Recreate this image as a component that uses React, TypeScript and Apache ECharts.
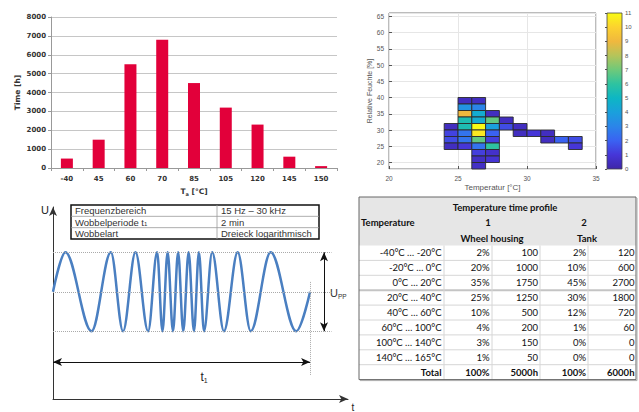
import React, { useEffect, useRef } from 'react';
import * as echarts from 'echarts';

// ---------- Panel 1: temperature histogram ----------
const barCategories = ['-40', '45', '60', '70', '85', '105', '120', '145', '150'];
const barValues = [500, 1500, 5500, 6800, 4500, 3200, 2300, 600, 100];

// ---------- Panel 2: humidity / temperature histogram (x = temp bin start, y = RH bin start, count) ----------
const heatCells: [number, number, number][] = [
  [25, 38, 0.5], [26, 38, 0.5],
  [25, 36, 3.5], [26, 36, 3],
  [25, 34, 9], [26, 34, 4.5], [27, 34, 0.5],
  [25, 32, 5.5], [26, 32, 4.5], [27, 32, 6.8], [28, 32, 0.5],
  [24, 30, 0.5], [25, 30, 5.5], [26, 30, 11], [27, 30, 4], [28, 30, 1.5], [29, 30, 0.5],
  [24, 28, 1.3], [25, 28, 2.5], [26, 28, 10.5], [27, 28, 2], [29, 28, 0.5], [30, 28, 1], [31, 28, 0.5],
  [24, 26, 1.5], [25, 26, 2.5], [26, 26, 6.8], [27, 26, 1.2], [31, 26, 0.5], [32, 26, 2], [33, 26, 1.5],
  [24, 24, 0.5], [25, 24, 1], [26, 24, 2.5], [27, 24, 6], [33, 24, 1],
  [26, 22, 1.2], [27, 22, 0.7],
  [26, 20, 0.6], [27, 20, 0.9],
  [26, 18, 0.6],
];
const heatBinW = 1;
const heatBinH = 2;
const parula = ['#3e26a8', '#4636d8', '#3a62f2', '#2b85e9', '#1aa0dc', '#0db6c4', '#2ec3a0', '#6fc97a', '#b5c45a', '#f0b83e', '#fcd22f', '#f9fb14'];

// ---------- Panel 3: sweep signal (time in s, normalized amplitude at extremes) ----------
const sweepTimes = [0, 5.8, 18.0, 27.0, 32.7, 38.5, 44.4, 48.6, 51.1, 53.5, 56.0, 58.4, 60.8, 63.3, 65.8, 68.1, 70.5, 74.3, 79.8, 86.2, 92.3, 101.6, 113.5, 120];
const sweepValues = [0, 1, -1, 1, -1, 1, -1, 1, -1, 1, -1, 1, -1, 1, -1, 1, -1, 1, -1, 1, -1, 1, -1, 0];
const sweepPeriod = 120;
const specLabels = ['Frequenzbereich', 'Wobbelperiode t', 'Wobbelart'];
const specValues = ['15 Hz – 30 kHz', '2 min', 'Dreieck logarithmisch'];

// ---------- Panel 4: temperature time profile table ----------
const profileRanges = ['-40°C … -20°C', '-20°C … 0°C', '0°C … 20°C', '20°C … 40°C', '40°C … 60°C', '60°C … 100°C', '100°C … 140°C', '140°C … 165°C'];
const wheelPct = [2, 20, 35, 25, 10, 4, 3, 1];
const wheelHours = [100, 1000, 1750, 1250, 500, 200, 150, 50];
const tankPct = [2, 10, 45, 30, 12, 1, 0, 0];
const tankHours = [120, 600, 2700, 1800, 720, 60, 0, 0];
const totals = ['Total', '100%', '5000h', '100%', '6000h'];

function buildGraphics() {
  const g: any[] = [];
  const txt = (text: string, x: number, y: number, align: string, font: any, extra: any = {}) => ({
    type: 'text', x, y, silent: true,
    style: { text, textAlign: align, align, textVerticalAlign: 'middle', verticalAlign: 'middle', ...font, ...extra },
  });

  // ---- wave spec table ----
  const sx = 71, sy = 205, sw = 248, sh = 34, sc = 217;
  const specFont = { fontFamily: 'Liberation Sans', fontSize: 9.5, fill: '#333' };
  g.push({ type: 'rect', shape: { x: sx, y: sy, width: sw, height: sh }, style: { fill: '#fff', stroke: '#111', lineWidth: 1.5 } });
  for (let i = 1; i < 3; i++) {
    g.push({ type: 'line', shape: { x1: sx, y1: sy + (sh / 3) * i, x2: sx + sw, y2: sy + (sh / 3) * i }, style: { stroke: '#999', lineWidth: 0.8 } });
  }
  g.push({ type: 'line', shape: { x1: sc, y1: sy, x2: sc, y2: sy + sh }, style: { stroke: '#999', lineWidth: 0.8 } });
  specLabels.forEach((l, i) => {
    const cy = sy + (sh / 3) * (i + 0.5);
    if (i === 1) {
      g.push(txt(`{n|${l}}{s|1}`, sx + 4, cy, 'left', specFont, {
        rich: { n: { fontFamily: 'Liberation Sans', fontSize: 9.5, fill: '#333' }, s: { fontFamily: 'Liberation Sans', fontSize: 6, fill: '#333', padding: [4, 0, 0, 0] } },
      }));
    } else {
      g.push(txt(l, sx + 4, cy, 'left', specFont));
    }
    g.push(txt(specValues[i], sc + 4, cy, 'left', specFont));
  });

  // axis names of wave panel
  g.push(txt('U', 45, 210, 'center', { fontFamily: 'Liberation Sans', fontSize: 11, fill: '#222' }));
  g.push(txt('t', 353, 407, 'center', { fontFamily: 'Liberation Sans', fontSize: 10, fill: '#222' }));
  g.push(txt('{u|U}{p|PP}', 330, 293, 'left', {}, {
    rich: { u: { fontFamily: 'Liberation Sans', fontSize: 11, fill: '#333' }, p: { fontFamily: 'Liberation Sans', fontSize: 6.5, fill: '#333', padding: [6, 0, 0, 0] } },
  }));

  // ---- temperature profile table ----
  const tx = 359, ty = 197, tw = 277, hh = 48.5, rh = 14.9;
  const colEdges = [444, 492, 540, 588];
  const colRight = [441.5, 489.5, 538, 586, 634.5];
  const nRows = profileRanges.length + 1;
  const bottom = ty + hh + nRows * rh;
  const f = { fontFamily: 'Lato', fontSize: 9.5, fill: '#111' };
  const fb = { fontFamily: 'Lato', fontSize: 9.5, fill: '#111', fontWeight: 'bold' };
  g.push({ type: 'rect', shape: { x: tx, y: ty, width: tw, height: bottom - ty }, style: { fill: '#fff', stroke: 'none' } });
  g.push({ type: 'rect', shape: { x: tx, y: ty, width: tw, height: hh }, style: { fill: '#e6e6e6', stroke: 'none' } });
  for (let i = 1; i < nRows; i++) {
    const y = ty + hh + i * rh;
    g.push({ type: 'line', shape: { x1: tx, y1: y, x2: tx + tw, y2: y }, style: { stroke: i === 3 ? '#c4c4c4' : '#d6d6d6', lineWidth: i === 3 ? 2 : 1 } });
  }
  colEdges.forEach((x) => {
    g.push({ type: 'line', shape: { x1: x, y1: ty + hh, x2: x, y2: bottom }, style: { stroke: '#d6d6d6', lineWidth: 1 } });
  });
  g.push({ type: 'rect', shape: { x: tx, y: ty, width: tw, height: bottom - ty }, style: { fill: 'none', stroke: '#666', lineWidth: 1 } });
  g.push({ type: 'line', shape: { x1: tx + tw + 1, y1: ty + 1, x2: tx + tw + 1, y2: bottom + 1 }, style: { stroke: '#aaa', lineWidth: 1 } });
  g.push({ type: 'line', shape: { x1: tx + 1, y1: bottom + 1, x2: tx + tw + 1, y2: bottom + 1 }, style: { stroke: '#aaa', lineWidth: 1 } });

  g.push(txt('Temperature time profile', 505, ty + 10, 'center', fb));
  g.push(txt('Temperature', 361, ty + 25.5, 'left', fb));
  g.push(txt('1', 488, ty + 25.5, 'center', fb));
  g.push(txt('2', 584, ty + 25.5, 'center', fb));
  g.push(txt('Wheel housing', 492, ty + 41, 'center', fb));
  g.push(txt('Tank', 587, ty + 41, 'center', fb));

  profileRanges.forEach((r, i) => {
    const cy = ty + hh + (i + 0.5) * rh;
    const cells = [r, `${wheelPct[i]}%`, `${wheelHours[i]}`, `${tankPct[i]}%`, `${tankHours[i]}`];
    cells.forEach((c, j) => g.push(txt(c, colRight[j], cy, 'right', f)));
  });
  const ty2 = ty + hh + (nRows - 0.5) * rh;
  totals.forEach((c, j) => g.push(txt(c, colRight[j], ty2, 'right', fb)));
  return g;
}

export default function App() {
  const ref = useRef<HTMLDivElement>(null);
  useEffect(() => {
    document.body.style.margin = '0';
    const chart = echarts.init(ref.current!, null, { renderer: 'svg' });
    const barFont = { fontFamily: 'DejaVu Sans', fontSize: 7, fontWeight: 'bold', color: '#333' };
    const heatFont = { fontFamily: 'Liberation Sans', fontSize: 6.5, color: '#555' };
    const dotted = { color: '#aaa', type: 'dotted', width: 1 };
    const option: any = {
      animation: false,
      backgroundColor: '#fff',
      grid: [
        { left: 51, top: 17, width: 286, height: 151 },
        { left: 389, top: 13, width: 207, height: 156, show: true, borderColor: '#555', borderWidth: 0.8, backgroundColor: 'transparent' },
        { left: 607, top: 13, width: 15, height: 156 },
        { left: 53, top: 207, width: 295, height: 192 },
      ],
      xAxis: [
        {
          gridIndex: 0, type: 'category', data: barCategories,
          axisLine: { lineStyle: { color: '#999' } },
          axisTick: { show: true, alignWithLabel: false, length: 3, lineStyle: { color: '#999' } },
          axisLabel: { ...barFont, margin: 7 },
          name: '{t|T}{s|a}{t| [°C]}', nameLocation: 'middle', nameGap: 19,
          nameTextStyle: { rich: { t: { fontFamily: 'DejaVu Sans', fontSize: 7.5, fontWeight: 'bold', color: '#333' }, s: { fontFamily: 'DejaVu Sans', fontSize: 5, fontWeight: 'bold', color: '#333', padding: [4, 0, 0, 0] } } },
        },
        {
          gridIndex: 1, type: 'value', min: 20, max: 35, interval: 5,
          axisLine: { show: false },
          axisTick: { show: true, inside: true, length: 3, lineStyle: { color: '#555' } },
          axisLabel: { ...heatFont, margin: 6 },
          splitLine: { show: true, lineStyle: { color: '#e6e6e6' } },
          name: 'Temperatur [°C]', nameLocation: 'middle', nameGap: 14,
          nameTextStyle: { fontFamily: 'Liberation Sans', fontSize: 8, color: '#555' },
        },
        { gridIndex: 2, type: 'value', min: 0, max: 1, show: false },
        {
          gridIndex: 3, type: 'value', min: 0, max: 137.7,
          axisLine: { show: true, onZero: false, symbol: ['none', 'arrow'], symbolSize: [6, 9], lineStyle: { color: '#333', width: 1 } },
          axisTick: { show: false }, axisLabel: { show: false }, splitLine: { show: false },
        },
      ],
      yAxis: [
        {
          gridIndex: 0, type: 'value', min: 0, max: 8000, interval: 1000,
          axisLine: { show: true, lineStyle: { color: '#999' } },
          axisTick: { show: true, length: 3, lineStyle: { color: '#999' } },
          axisLabel: { ...barFont, margin: 5, formatter: (v: number) => String(v) },
          splitLine: { lineStyle: { color: '#c6c6c6' } },
          name: 'Time [h]', nameLocation: 'middle', nameGap: 30, nameRotate: 90,
          nameTextStyle: { fontFamily: 'DejaVu Sans', fontSize: 7.5, fontWeight: 'bold', color: '#333' },
        },
        {
          gridIndex: 1, type: 'value', min: 18, max: 66, splitNumber: 10,
          axisLine: { show: false },
          axisTick: { show: true, inside: true, length: 3, lineStyle: { color: '#555' } },
          axisLabel: { ...heatFont, margin: 5, showMinLabel: false, showMaxLabel: false },
          splitLine: { show: true, lineStyle: { color: '#e6e6e6' } },
          name: 'Relative Feuchte [%]', nameLocation: 'middle', nameGap: 14,
          nameTextStyle: { fontFamily: 'Liberation Sans', fontSize: 7, color: '#555' },
        },
        {
          gridIndex: 2, type: 'value', min: 0, max: 11, interval: 1, position: 'right',
          axisLine: { show: false },
          axisTick: { show: true, inside: true, length: 2, lineStyle: { color: '#555' } },
          axisLabel: { fontFamily: 'Liberation Sans', fontSize: 6, color: '#555', margin: 3 },
          splitLine: { show: false },
        },
        {
          gridIndex: 3, type: 'value', min: -2.72, max: 2.15,
          axisLine: { show: true, onZero: false, symbol: ['none', 'arrow'], symbolSize: [6, 9], lineStyle: { color: '#333', width: 1 } },
          axisTick: { show: false }, axisLabel: { show: false }, splitLine: { show: false },
        },
      ],
      visualMap: {
        type: 'continuous', show: false, min: 0, max: 11, dimension: 2, seriesIndex: 1,
        inRange: { color: parula },
      },
      series: [
        {
          type: 'bar', xAxisIndex: 0, yAxisIndex: 0, data: barValues, barWidth: 12,
          itemStyle: { color: '#e2003a' },
        },
        {
          type: 'custom', xAxisIndex: 1, yAxisIndex: 1, data: heatCells,
          encode: { x: 0, y: 1 },
          renderItem: (params: any, api: any) => {
            const x = api.value(0);
            const y = api.value(1);
            const p0 = api.coord([x, y + heatBinH]);
            const p1 = api.coord([x + heatBinW, y]);
            return {
              type: 'rect',
              shape: { x: p0[0], y: p0[1], width: p1[0] - p0[0], height: p1[1] - p0[1] },
              style: { fill: api.visual('color'), stroke: '#2a2a2a', lineWidth: 0.9 },
            };
          },
        },
        {
          type: 'custom', xAxisIndex: 2, yAxisIndex: 2, data: [[0, 0]],
          encode: { x: 0, y: 1 },
          renderItem: (params: any, api: any) => {
            const p0 = api.coord([0, 11]);
            const p1 = api.coord([1, 0]);
            return {
              type: 'rect',
              shape: { x: p0[0], y: p0[1], width: p1[0] - p0[0], height: p1[1] - p0[1] },
              style: {
                fill: new echarts.graphic.LinearGradient(0, 1, 0, 0, parula.map((c, i) => ({ offset: i / (parula.length - 1), color: c }))),
                stroke: '#444', lineWidth: 0.8,
              },
            };
          },
        },
        {
          type: 'line', xAxisIndex: 3, yAxisIndex: 3,
          data: sweepTimes.map((t, i) => [t, sweepValues[i]]),
          showSymbol: false, smooth: 0.35, smoothMonotone: 'x',
          lineStyle: { color: '#4a7fc1', width: 2.5 },
          z: 3,
          markLine: {
            silent: true, symbol: 'none', animation: false,
            label: { show: false },
            lineStyle: dotted,
            data: [
              [{ coord: [0, 1] }, { coord: [130, 1] }],
              [{ coord: [0, 0] }, { coord: [130, 0] }],
              [{ coord: [0, -1] }, { coord: [130, -1] }],
              [{ coord: [sweepPeriod, 0.25] }, { coord: [sweepPeriod, -2.11] }],
            ],
          },
        },
        {
          type: 'line', xAxisIndex: 3, yAxisIndex: 3, data: [],
          markLine: {
            silent: true, animation: false,
            symbol: ['arrow', 'arrow'], symbolSize: [6, 9],
            lineStyle: { color: '#111', type: 'solid', width: 1 },
            label: { show: false },
            data: [
              [
                { coord: [0, -1.78] },
                { coord: [sweepPeriod, -1.78] },
              ],
              [{ coord: [126.5, 1] }, { coord: [126.5, -1] }],
            ],
          },
        },
      ],
      graphic: buildGraphics(),
    };
    option.graphic.push({
      type: 'text', x: 204, y: 377, silent: true,
      style: {
        text: '{a|t}{b|1}', textAlign: 'center', align: 'center', textVerticalAlign: 'middle', verticalAlign: 'middle',
        rich: { a: { fontFamily: 'Liberation Sans', fontSize: 12, fill: '#222' }, b: { fontFamily: 'Liberation Sans', fontSize: 7, fill: '#222', padding: [6, 0, 0, 0] } },
      },
    });
    chart.setOption(option);
    return () => chart.dispose();
  }, []);
  return <div ref={ref} style={{ width: 639, height: 412, background: '#fff' }} />;
}
